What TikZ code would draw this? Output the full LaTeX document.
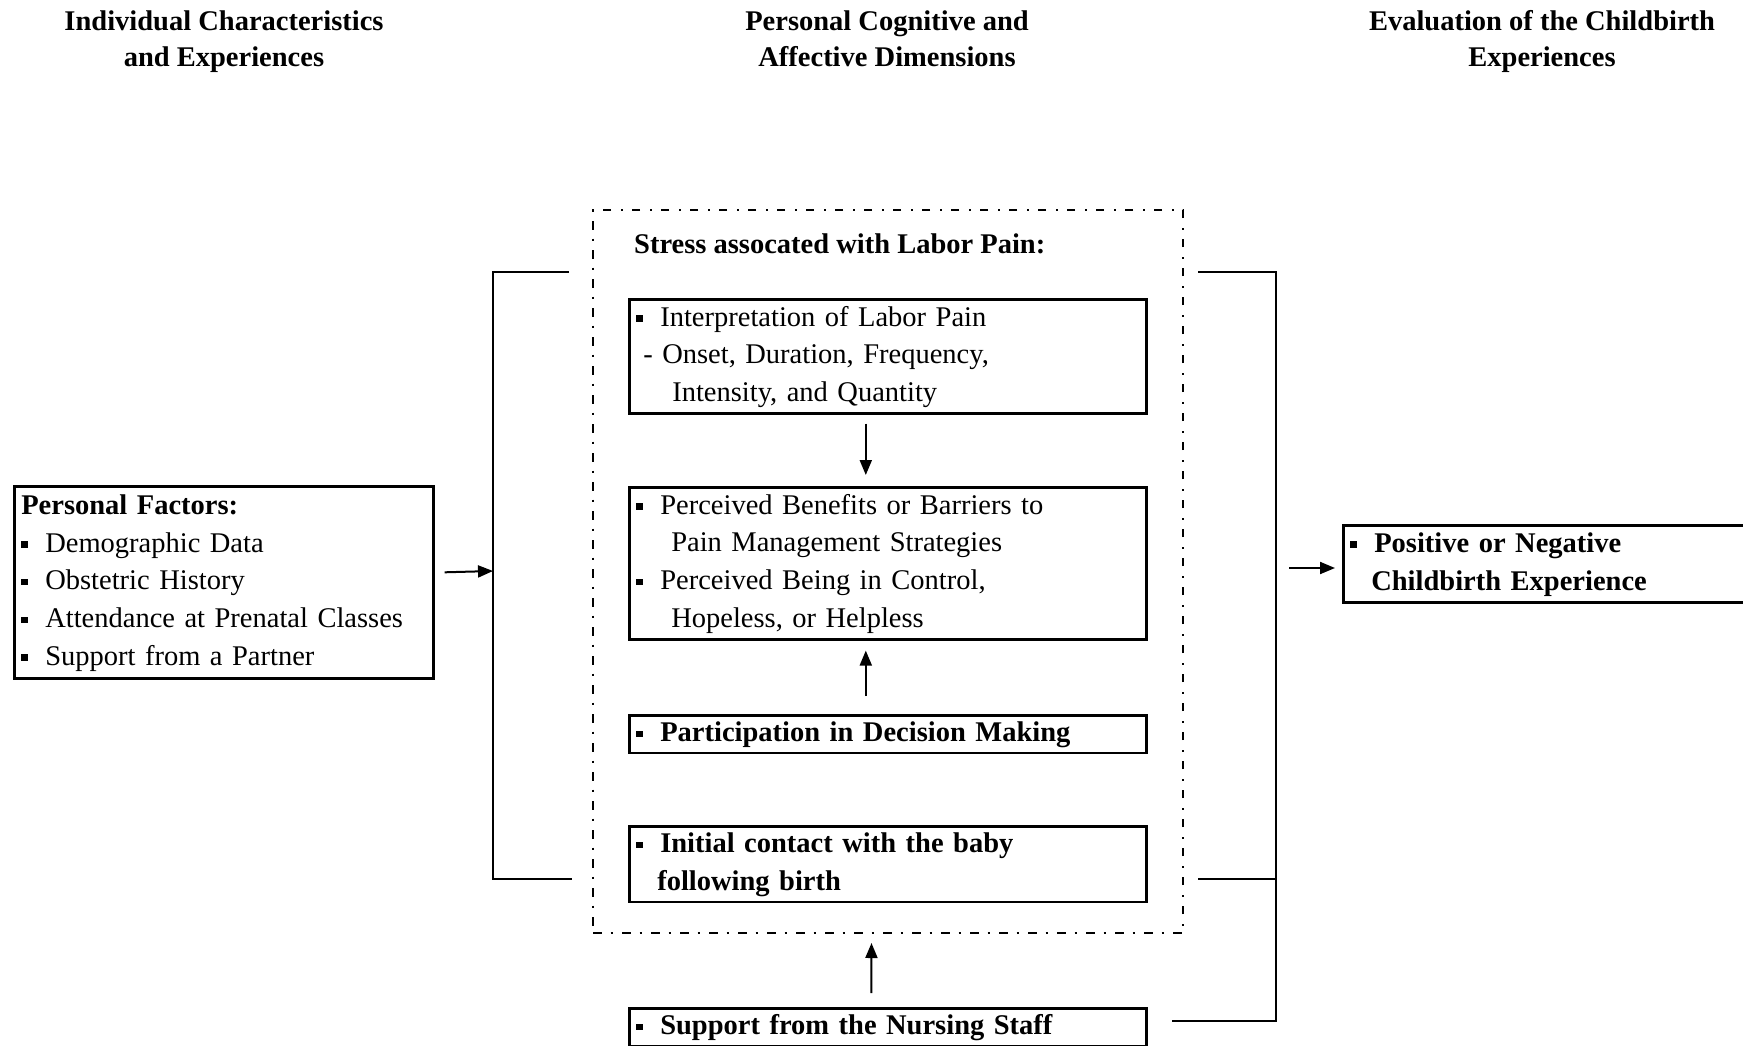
\documentclass[tikz,border=0pt]{standalone}
\usepackage{fontspec}
\setmainfont{Liberation Serif}
\usetikzlibrary{arrows.meta,calc}
\newcommand\bul{\makebox[24pt][l]{\rule[4.5pt]{6.5pt}{6.5pt}}}
\begin{document}
\begin{tikzpicture}[x=1pt,y=-1pt,
  every node/.style={font=\fontsize{28.5}{37.8}\selectfont, inner sep=0pt},
  hdr/.style={font=\fontsize{28.5}{36}\selectfont\bfseries, align=center, anchor=north},
  box/.style={draw, line width=2.6pt, anchor=north west, align=left, inner xsep=7pt, inner ysep=0pt},
  arr/.style={line width=2pt, -{Triangle[length=15pt,width=12pt]}},
  brk/.style={line width=1.8pt},
  dd/.style={draw, line width=2pt, dash pattern=on 8.5pt off 9pt on 2pt off 9.5pt, anchor=north west}]
\useasboundingbox (0,0) rectangle (1743,1045);

% headers
\node[hdr] (h1) at (224,5.5) {\strut Individual Characteristics\\\strut and Experiences};
\node[hdr] (h2) at (887,5.5) {\strut Personal Cognitive and\\\strut Affective Dimensions};
\node[hdr] (h3) at (1542,5.5) {\strut Evaluation of the Childbirth\\\strut Experiences};

% dashed frame
\node[dd, minimum width=590pt, minimum height=723pt] (db) at (592,209) {};
\node[anchor=base west, font=\fontsize{28.5}{37.8}\selectfont\bfseries] (st) at (634,253) {Stress assocated with Labor Pain:};

% left box
\node[box, text width=405pt, minimum height=192pt] (lb) at (13,485)
  {\strut\textbf{Personal Factors:}\\
   \strut\bul Demographic Data\\
   \strut\bul Obstetric History\\
   \strut\bul Attendance at Prenatal Classes\\
   \strut\bul Support from a Partner};

% middle boxes
\node[box, text width=503pt, minimum height=114pt] (b1) at (628,298)
  {\strut\bul Interpretation of Labor Pain\\
   \strut\hspace*{7pt}- Onset, Duration, Frequency,\\
   \strut\hspace*{36pt}Intensity, and Quantity};
\node[box, text width=503pt, minimum height=152pt] (b2) at (628,486)
  {\strut\bul Perceived Benefits or Barriers to\\
   \strut\hspace*{35pt}Pain Management Strategies\\
   \strut\bul Perceived Being in Control,\\
   \strut\hspace*{35pt}Hopeless, or Helpless};
\node[box, text width=503pt, minimum height=35pt, font=\fontsize{28.5}{37.8}\selectfont\bfseries] (b3) at (628,714)
  {\strut\bul Participation in Decision Making};
\node[box, text width=503pt, minimum height=74pt, font=\fontsize{28.5}{37.8}\selectfont\bfseries] (b4) at (628,825)
  {\strut\bul Initial contact with the baby\\
   \strut\hspace*{21pt}following birth};
\node[box, text width=503pt, minimum height=36pt, font=\fontsize{28.5}{37.8}\selectfont\bfseries] (b5) at (628,1007)
  {\strut\bul Support from the Nursing Staff};

% right box
\node[box, text width=387pt, minimum height=77pt, font=\fontsize{28.5}{37.8}\selectfont\bfseries] (rb) at (1342,524)
  {\strut\bul Positive or Negative\\
   \strut\hspace*{21pt}Childbirth Experience};

% inner arrows
\draw[arr] ([shift={(-22,9)}]b1.south) -- ([shift={(-22,-11)}]b2.north);
\draw[arr] ([shift={(-22,-18)}]b3.north) -- ([shift={(-22,10)}]b2.south);
\draw[arr] ([shift={(-16.5,-14)}]b5.north) -- ([shift={(-16.5,9)}]db.south);

% left bracket
\coordinate (lt1) at (569,272);
\coordinate (lt2) at (493,272);
\coordinate (lm) at (493,571);
\coordinate (lb2) at (493,879);
\coordinate (lb1) at (572,879);
\draw[brk] (lt1) -- (lt2) -- (lb2) -- (lb1);
\draw[arr] ([shift={(10,-10)}]lb.east) -- (lm);

% right bracket
\coordinate (rt1) at (1198,272);
\coordinate (rt2) at (1276,272);
\coordinate (rb2) at (1276,1021);
\coordinate (rb1) at (1172,1021);
\coordinate (rm1) at (1198,879);
\coordinate (rm2) at (1276,879);
\coordinate (ra) at (1289,568);
\draw[brk] (rt1) -- (rt2) -- (rb2) -- (rb1);
\draw[brk] (rm1) -- (rm2);
\draw[arr] (ra) -- ([shift={(-7,0)}]rb.west |- ra);
\end{tikzpicture}
\end{document}
